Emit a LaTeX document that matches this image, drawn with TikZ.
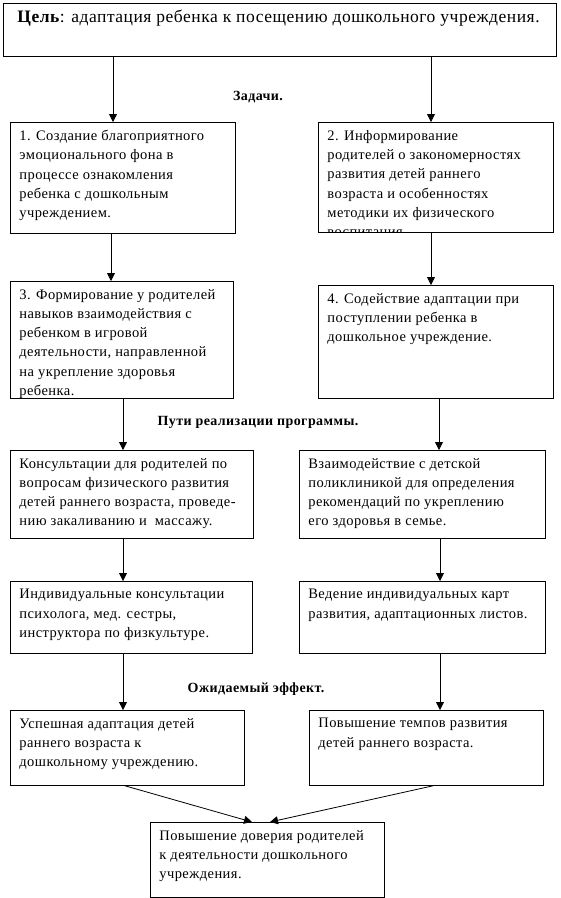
\documentclass[tikz,border=0pt]{standalone}
\usepackage{fontspec}
\setmainfont{Liberation Serif}[LetterSpace=3]
\usetikzlibrary{arrows.meta}

% box text: fixed width and height, set from the top
\newcommand{\cell}[3]{\begin{minipage}[t][#2][t]{#1}\raggedright #3\end{minipage}}

\tikzset{
    task/.style={draw, line width=0.8pt, rectangle, anchor=north west,
        inner xsep=9pt, inner ysep=8pt, font=\fontsize{14.5}{19.2}\selectfont},
    head/.style={font=\bfseries\fontsize{14}{16}\selectfont},
    arr/.style={-{Triangle[width=8pt,length=8pt]}, line width=0.8pt},
}

\begin{document}
\begin{tikzpicture}[x=1pt, y=-1pt]
    \useasboundingbox (0,0) rectangle (561,898);

    % ===== Цель =====
    \node[task, inner xsep=14pt, inner ysep=7pt, font=\fontsize{17.5}{20}\selectfont] (goal) at (3,3)
        {\cell{525pt}{39pt}{\textbf{Цель}: адаптация ребенка к посещению дошкольного учреждения.}};

    % ===== Задачи =====
    \node[head] (tasks) at (258,97) {Задачи.};

    \node[task] (t1) at (10,122) {\cell{207pt}{95pt}{1. Создание благоприятного\\
        эмоционального фона в\\ процессе ознакомления\\ ребенка с дошкольным\\ учреждением.}};
    % текст второго блока обрезан нижней рамкой
    \begin{scope}
        \clip (317,121) rectangle (554,232.5);
        \node[task] (t2) at (318,122) {\cell{217pt}{94pt}{2. Информирование\\
            родителей о закономерностях\\ развития детей раннего\\ возраста и особенностях\\
            методики их физического\\ воспитания.}};
    \end{scope}

    \node[task] (t3) at (10,281) {\cell{205pt}{101pt}{3. Формирование у родителей\\
        навыков взаимодействия с\\ ребенком в игровой\\ деятельности, направленной\\
        на укрепление здоровья\\ ребенка.}};
    \node[task] (t4) at (318,285) {\cell{217pt}{97pt}{4. Содействие адаптации при\\
        поступлении ребенка в\\ дошкольное учреждение.}};

    % ===== Пути реализации программы =====
    \node[head] (ways) at (258,422) {Пути реализации программы.};

    \node[task] (t5) at (10,450) {\cell{225pt}{72pt}{Консультации для родителей по\\
        вопросам физического развития\\ детей раннего возраста, проведе-\\
        нию закаливанию и~~массажу.}};
    \node[task] (t6) at (299,450) {\cell{228pt}{72pt}{Взаимодействие с детской\\
        поликлиникой для определения\\ рекомендаций по укреплению\\ его здоровья в семье.}};

    \node[task] (t7) at (10,581) {\cell{224pt}{56pt}{Индивидуальные консультации\\
        психолога, мед. сестры,\\ инструктора по физкультуре.}};
    \node[task] (t8) at (299,581) {\cell{228pt}{56pt}{Ведение индивидуальных карт\\
        развития, адаптационных листов.}};

    % ===== Ожидаемый эффект =====
    \node[head] (effect) at (256,689) {Ожидаемый эффект.};

    \node[task] (t9) at (10,710) {\cell{216pt}{59pt}{Успешная адаптация детей\\
        раннего возраста к\\ дошкольному учреждению.}};
    \node[task] (t10) at (309,710) {\cell{216pt}{59pt}{Повышение темпов развития\\
        детей раннего возраста.}};

    \node[task] (t11) at (150,822) {\cell{216pt}{59pt}{Повышение доверия родителей\\
        к деятельности дошкольного\\ учреждения.}};

    % стрелки
    \draw[arr] (113,0 |- goal.south) -- (113,0 |- t1.north);
    \draw[arr] (431,0 |- goal.south) -- (431,0 |- t2.north);
    \draw[arr] (111,0 |- t1.south) -- (111,0 |- t3.north);
    \draw[arr] (431,0 |- t2.south) -- (431,0 |- t4.north);
    \draw[arr] (123,0 |- t3.south) -- (123,0 |- t5.north);
    \draw[arr] (439,0 |- t4.south) -- (439,0 |- t6.north);
    \draw[arr] (123,0 |- t5.south) -- (123,0 |- t7.north);
    \draw[arr] (440,0 |- t6.south) -- (440,0 |- t8.north);
    \draw[arr] (123,0 |- t7.south) -- (123,0 |- t9.north);
    \draw[arr] (440,0 |- t8.south) -- (440,0 |- t10.north);
    \draw[arr] (125,0 |- t9.south) -- (252,0 |- t11.north);
    \draw[arr] (433,0 |- t10.south) -- (270,0 |- t11.north);
\end{tikzpicture}
\end{document}
